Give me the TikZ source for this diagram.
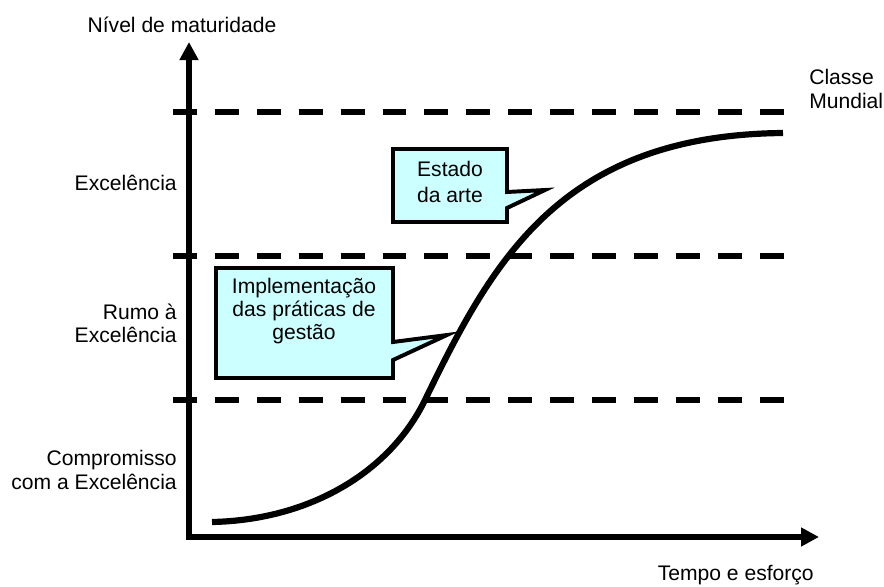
\documentclass[tikz,border=0pt]{standalone}
\usepackage{fontspec}
\setmainfont{Liberation Sans}
\usetikzlibrary{arrows.meta}

\definecolor{balao}{HTML}{CCFFFF}

\tikzset{
  eixo/.style={line width=4.2pt,
    {Triangle[length=12.8pt,width=12.8pt]}-{Triangle[length=12.8pt,width=12.8pt]}},
  nivel/.style={line width=4.2pt,dash pattern=on 17pt off 12.8pt},
  curva/.style={line width=4.4pt,line cap=butt},
  balaobox/.style={draw,line width=2.8pt,fill=balao,line join=miter},
  rotulo/.style={font=\fontsize{15}{16.5}\selectfont,align=right,anchor=east,inner sep=0pt},
  texto/.style={font=\fontsize{15}{16.5}\selectfont,align=center,inner sep=0pt},
}

\begin{document}
\begin{tikzpicture}[x=0.025cm,y=-0.025cm]
\useasboundingbox (0,0) rectangle (884,587);

% eixos
\coordinate (topo) at (189,42);
\coordinate (orig) at (189,537);
\coordinate (fim) at (819,537);
\draw [eixo] (topo) -- (orig) -- (fim);

\node[texto] (ylab) at (182,25) {Nível de maturidade};
\node[texto,anchor=east] (xlab) at (814,575) {Tempo e esforço};

% niveis
\coordinate (n1a) at (173,112); \coordinate (n1b) at (785,112);
\coordinate (n2a) at (173,256); \coordinate (n2b) at (785,256);
\coordinate (n3a) at (173,400); \coordinate (n3b) at (785,400);
\draw [nivel] (n1a) -- (n1b);
\draw [nivel] (n2a) -- (n2b);
\draw [nivel] (n3a) -- (n3b);

\node[rotulo] (exc) at (177,183) {Excelência};
\node[rotulo] (rumo) at (177,323) {Rumo à\\Excelência};
\node[rotulo] (comp) at (177,470) {Compromisso\\com a Excelência};
\node[rotulo,align=left,anchor=west] (classe) at (809,89) {Classe\\Mundial};

% curva S
\coordinate (c0) at (212,522);
\coordinate (c1) at (425,400);
\coordinate (c2) at (783,133);
\draw [curva] (c0) .. controls (310,520) and (390,472) .. (c1)
  .. controls (492,262) and (560,135) .. (c2);

% baloes
\draw [balaobox] (393,149) -- (507,149) -- (507,192) -- (545,190)
  -- (507,208) -- (507,222) -- (393,222) -- cycle;
\node[texto,font=\fontsize{15}{18.5}\selectfont] (estado) at (450,182) {Estado\\da arte};

\draw [balaobox] (216,268) -- (393,268) -- (393,342) -- (447,335)
  -- (393,360) -- (393,378) -- (216,378) -- cycle;
\node[texto] (impl) at (304,311) {Implementação\\das práticas de\\gestão};

\end{tikzpicture}
\end{document}
